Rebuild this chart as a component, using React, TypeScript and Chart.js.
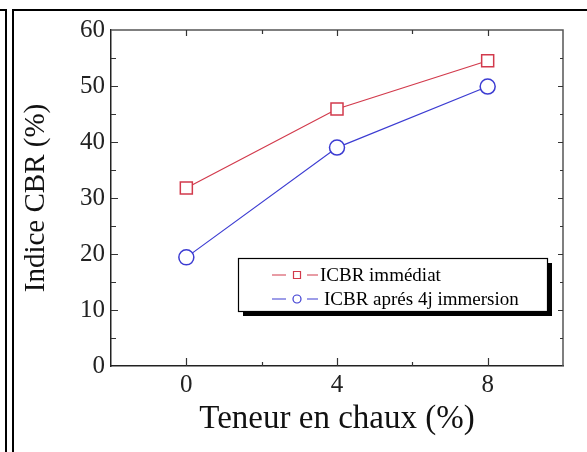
import React, { useEffect, useRef } from "react";
import { Chart, registerables } from "chart.js";

Chart.register(...registerables);

// ---- data ----
const limeContent = [0, 4, 8];
const icbrImmediate = [31.8, 45.9, 54.5];
const icbrImmersion = [19.4, 39.0, 49.9];
const seriesLabels = ["ICBR immédiat", "ICBR aprés 4j immersion"];
const xTickLabels = [0, 4, 8];
const xTitle = "Teneur en chaux (%)";
const yTitle = "Indice CBR (%)";

const RED = "#d23a4c";
const BLUE = "#3c3cd2";
const SERIF = "'Liberation Serif', 'Times New Roman', serif";

const framePlugin = {
  id: "framePlugin",
  beforeDraw(chart: any) {
    const ctx = chart.ctx;
    ctx.save();
    ctx.fillStyle = "#fff";
    ctx.fillRect(0, 0, chart.width, chart.height);
    ctx.strokeStyle = "#000";
    ctx.lineWidth = 2;
    ctx.beginPath();
    ctx.moveTo(0, 10);
    ctx.lineTo(6, 10);
    ctx.lineTo(6, chart.height);
    ctx.moveTo(13, chart.height);
    ctx.lineTo(13, 10);
    ctx.lineTo(chart.width, 10);
    ctx.stroke();
    ctx.restore();
  },
  afterDraw(chart: any) {
    const ctx = chart.ctx;
    const ca = chart.chartArea;
    const xs = chart.scales.x;
    const ys = chart.scales.y;
    ctx.save();
    ctx.strokeStyle = "#555";
    ctx.lineWidth = 1.5;
    ctx.beginPath();
    ctx.moveTo(ca.left, ca.top);
    ctx.lineTo(ca.right, ca.top);
    ctx.lineTo(ca.right, ca.bottom);
    ctx.stroke();
    ctx.strokeStyle = "#333";
    ctx.lineWidth = 1.2;
    ctx.beginPath();
    xs.ticks.forEach((t: any) => {
      const v = t.value;
      if (v <= xs.min || v >= xs.max) return;
      const major = xTickLabels.includes(v);
      const px = Math.round(xs.getPixelForValue(v)) + 0.5;
      ctx.moveTo(px, ca.bottom);
      ctx.lineTo(px, ca.bottom - (major ? 8 : 4));
      ctx.moveTo(px, ca.top);
      ctx.lineTo(px, ca.top + (major ? 6 : 4));
    });
    ys.ticks.forEach((t: any) => {
      const v = t.value;
      if (v <= ys.min || v >= ys.max) return;
      const major = v % 10 === 0;
      const py = Math.round(ys.getPixelForValue(v)) + 0.5;
      ctx.moveTo(ca.left, py);
      ctx.lineTo(ca.left + (major ? 7 : 5), py);
      ctx.moveTo(ca.right, py);
      ctx.lineTo(ca.right - (major ? 5 : 3), py);
    });
    ctx.stroke();

    const bx = 238, by = 258, bw = 309, bh = 53;
    ctx.fillStyle = "#000";
    ctx.fillRect(bx + 5, by + 5, bw, bh);
    ctx.fillStyle = "#fff";
    ctx.fillRect(bx, by, bw, bh);
    ctx.strokeStyle = "#000";
    ctx.lineWidth = 1.2;
    ctx.strokeRect(bx + 0.5, by + 0.5, bw, bh);

    const rows = [275, 299];
    const textX = [320, 324];
    chart.data.datasets.forEach((ds: any, i: number) => {
      const ry = rows[i];
      ctx.strokeStyle = ds.borderColor;
      ctx.lineWidth = 1.2;
      ctx.beginPath();
      ctx.moveTo(272, ry);
      ctx.lineTo(286, ry);
      ctx.moveTo(307, ry);
      ctx.lineTo(318, ry);
      ctx.stroke();
      ctx.beginPath();
      if (ds.pointStyle === "rect") {
        ctx.rect(293.5, ry - 3.5, 7, 7);
      } else {
        ctx.arc(297, ry, 4, 0, Math.PI * 2);
      }
      ctx.stroke();
      ctx.fillStyle = "#000";
      ctx.font = `19px ${SERIF}`;
      ctx.textBaseline = "middle";
      ctx.textAlign = "left";
      ctx.fillText(ds.label, textX[i], ry + 1);
    });
    ctx.restore();
  },
};

export default function App() {
  const ref = useRef<HTMLCanvasElement | null>(null);
  useEffect(() => {
    if (!ref.current) return;
    const chart = new Chart(ref.current, {
      type: "line",
      data: {
        datasets: [
          {
            label: seriesLabels[0],
            data: limeContent.map((x, i) => ({ x, y: icbrImmediate[i] })),
            borderColor: RED,
            backgroundColor: "#fff",
            borderWidth: 1.2,
            pointStyle: "rect",
            pointRadius: 8.5,
            pointBorderWidth: 1.5,
            pointBackgroundColor: "#fff",
            pointBorderColor: RED,
            tension: 0,
          },
          {
            label: seriesLabels[1],
            data: limeContent.map((x, i) => ({ x, y: icbrImmersion[i] })),
            borderColor: BLUE,
            backgroundColor: "#fff",
            borderWidth: 1.2,
            pointStyle: "circle",
            pointRadius: 7.5,
            pointBorderWidth: 1.5,
            pointBackgroundColor: "#fff",
            pointBorderColor: BLUE,
            tension: 0,
          },
        ],
      },
      options: {
        responsive: false,
        animation: false,
        events: [],
        layout: { padding: { left: 0, top: 30, right: 24, bottom: 0 } },
        plugins: {
          legend: { display: false },
          tooltip: { enabled: false },
        },
        scales: {
          x: {
            type: "linear",
            min: -2,
            max: 10,
            afterFit: (s: any) => {
              s.height = 86;
            },
            border: { display: true, color: "#222", width: 1.5 },
            grid: { display: false, drawTicks: false },
            ticks: {
              stepSize: 2,
              autoSkip: false,
              maxRotation: 0,
              padding: 4,
              color: "#222",
              font: { family: SERIF, size: 25 },
              callback: (v: any) => (xTickLabels.includes(Number(v)) ? String(v) : ""),
            },
            title: {
              display: true,
              text: xTitle,
              color: "#111",
              font: { family: SERIF, size: 33 },
              padding: { top: 0, bottom: 13 },
            },
          },
          y: {
            type: "linear",
            min: 0,
            max: 60,
            afterFit: (s: any) => {
              s.width = 111;
            },
            border: { display: true, color: "#222", width: 1.5 },
            grid: { display: false, drawTicks: false },
            ticks: {
              stepSize: 5,
              autoSkip: false,
              padding: 6,
              color: "#222",
              font: { family: SERIF, size: 25 },
              callback: (v: any) => (Number(v) % 10 === 0 ? String(v) : ""),
            },
            title: {
              display: true,
              text: yTitle,
              color: "#111",
              font: { family: SERIF, size: 29 },
              padding: { top: 19, bottom: 0 },
            },
          },
        },
      },
      plugins: [framePlugin],
    } as any);
    return () => chart.destroy();
  }, []);
  return (
    <div style={{ position: "fixed", left: 0, top: 0, width: 587, height: 452, background: "#fff" }}>
      <canvas ref={ref} width={587} height={452} style={{ display: "block" }} />
    </div>
  );
}
